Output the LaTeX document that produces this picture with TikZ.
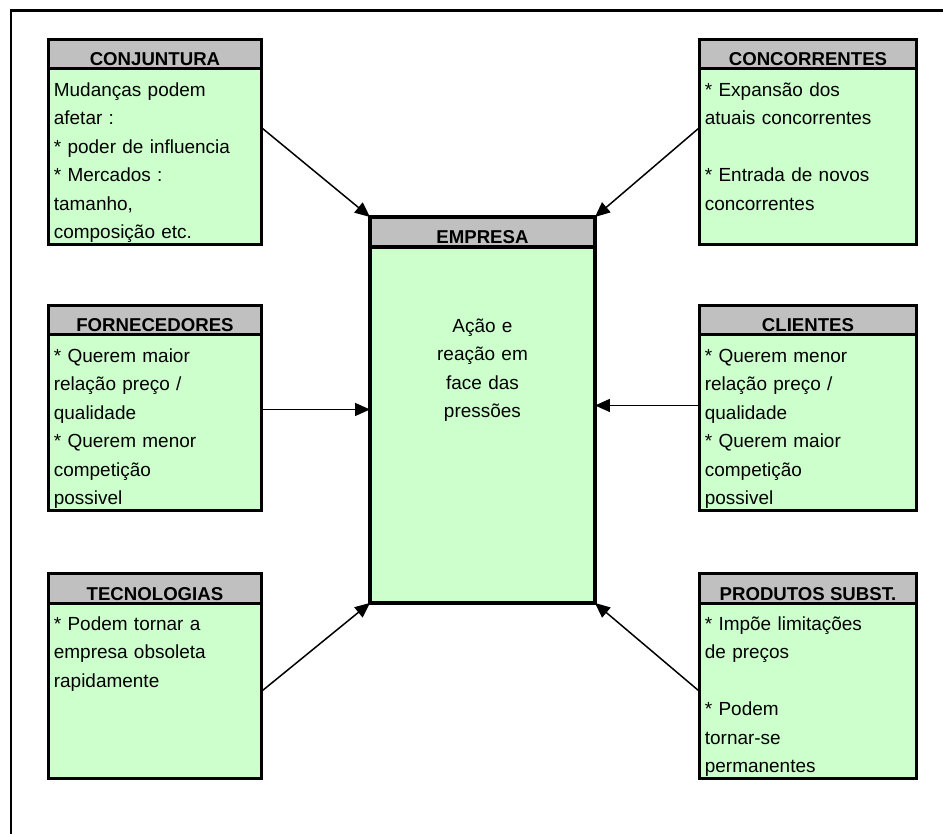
\documentclass[tikz,border=0pt]{standalone}
\usepackage{fontspec}
\setmainfont{Liberation Sans}
\usetikzlibrary{arrows.meta,positioning,calc}
\definecolor{PanelGreen}{HTML}{CCFFCC}
\definecolor{PanelGray}{HTML}{C0C0C0}
\tikzset{
  panel/.style={draw,fill=PanelGreen,line width=0.06cm,minimum width=#1,minimum height=3.52cm,inner sep=0pt,outer sep=0pt,anchor=north west},
  panelhead/.style={draw,fill=PanelGray,line width=0.06cm,minimum width=#1,minimum height=0.6cm,inner sep=0pt,outer sep=0pt,text height=0.48cm,text depth=0pt,font=\fontsize{10.6}{12}\selectfont\bfseries},
  bodytxt/.style={anchor=north west,inner sep=0pt,text width=4cm,align=left,font=\fontsize{10.8}{16.2}\selectfont},
  arr/.style={-{Triangle[length=0.3cm,width=0.26cm]},line width=0.03cm}
}
\begin{document}
\begin{tikzpicture}[x=0.02cm,y=-0.02cm]
\useasboundingbox (0,0) rectangle (943,834);
\draw[line width=0.06cm] (11,834) |- (943,11);

% centre
\node[panel=4.5cm,minimum height=7.12cm,line width=0.09cm] (emp) at (370,247) {};
\node[panelhead=4.5cm,line width=0.09cm,above=0pt of emp] (emphd) {EMPRESA};
\node[bodytxt,anchor=north,text width=4.3cm,align=center] (emptxt) at ([yshift=-1.3cm]emp.north) {\strut Ação e\\ reação em\\ face das\\ pressões};

% left column
\node[panel=4.28cm] (conj) at (48,69) {};
\node[panelhead=4.28cm,above=0pt of conj] (conjhd) {CONJUNTURA};
\node[bodytxt] (conjtxt) at ([xshift=0.11cm,yshift=-0.14cm]conj.north west) {\strut Mudanças podem\\ afetar :\\ {*} poder de influencia\\ {*} Mercados :\\ tamanho,\\ composição etc.};

\node[panel=4.28cm] (forn) at (48,335) {};
\node[panelhead=4.28cm,above=0pt of forn] (fornhd) {FORNECEDORES};
\node[bodytxt] (forntxt) at ([xshift=0.11cm,yshift=-0.14cm]forn.north west) {\strut {*} Querem maior\\ relação preço /\\ qualidade\\ {*} Querem menor\\ competição\\ possivel};

\node[panel=4.28cm] (tec) at (48,603) {};
\node[panelhead=4.28cm,above=0pt of tec] (techd) {TECNOLOGIAS};
\node[bodytxt] (tectxt) at ([xshift=0.11cm,yshift=-0.14cm]tec.north west) {\strut {*} Podem tornar a\\ empresa obsoleta\\ rapidamente};

% right column
\node[panel=4.36cm] (conc) at (699,69) {};
\node[panelhead=4.36cm,above=0pt of conc] (conchd) {CONCORRENTES};
\node[bodytxt] (conctxt) at ([xshift=0.11cm,yshift=-0.14cm]conc.north west) {\strut {*} Expansão dos\\ atuais concorrentes\\ \mbox{}\\ {*} Entrada de novos\\ concorrentes};

\node[panel=4.36cm] (cli) at (699,335) {};
\node[panelhead=4.36cm,above=0pt of cli] (clihd) {CLIENTES};
\node[bodytxt] (clitxt) at ([xshift=0.11cm,yshift=-0.14cm]cli.north west) {\strut {*} Querem menor\\ relação preço /\\ qualidade\\ {*} Querem maior\\ competição\\ possivel};

\node[panel=4.36cm] (prod) at (699,603) {};
\node[panelhead=4.36cm,above=0pt of prod] (prodhd) {PRODUTOS SUBST.};
\node[bodytxt] (prodtxt) at ([xshift=0.11cm,yshift=-0.14cm]prod.north west) {\strut {*} Impõe limitações\\ de preços\\ \mbox{}\\ {*} Podem\\ tornar-se\\ permanentes};

% pressures on the company
\coordinate (fornout) at ([yshift=0.27cm]forn.east);
\coordinate (cliout) at ([yshift=0.35cm]cli.west);
\draw[arr] ([yshift=0.58cm]conj.east) -- (emphd.north west);
\draw[arr] ([yshift=0.58cm]conc.west) -- (emphd.north east);
\draw[arr] (fornout) -- (fornout -| emp.west);
\draw[arr] (cliout) -- (cliout -| emp.east);
\draw[arr] (tec.east) -- (emp.south west);
\draw[arr] (prod.west) -- (emp.south east);
\end{tikzpicture}
\end{document}
